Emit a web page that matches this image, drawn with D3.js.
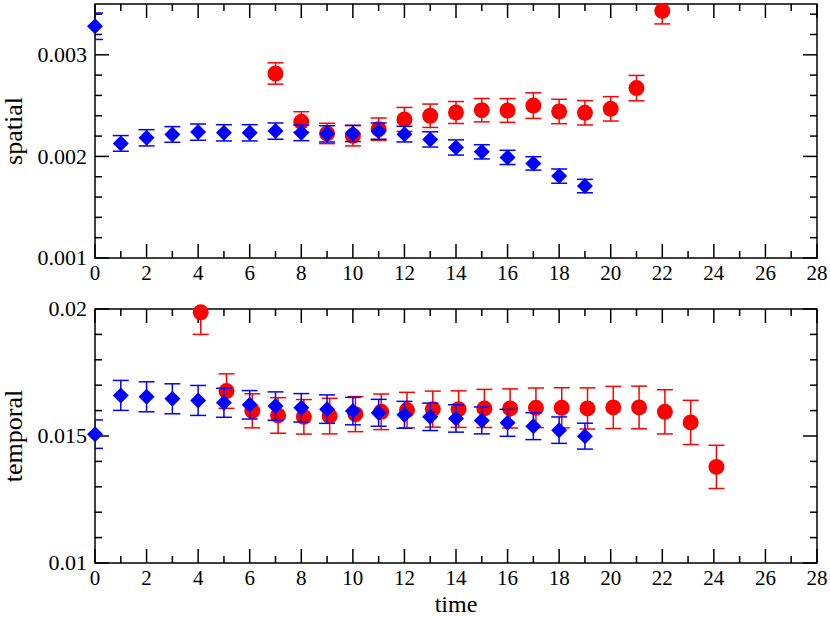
<!DOCTYPE html>
<html>
<head>
<meta charset="utf-8">
<script src="https://cdn.jsdelivr.net/npm/d3@7"></script>
<style>
  html, body { margin: 0; padding: 0; background: #fff; }
  svg { display: block; }
  text { font-family: "Liberation Serif", "Times New Roman", serif; fill: #000; }
</style>
</head>
<body>
<div id="chart"></div>
<script>
// ---------- data ----------
const spatialBlueTime = [0,1,2,3,4,5,6,7,8,9,10,11,12,13,14,15,16,17,18,19];
const spatialBlue = [0.003281,0.002128,0.002183,0.002216,0.002239,0.002232,0.002232,0.002249,0.002232,0.002222,
                     0.002226,0.002249,0.002219,0.002167,0.002088,0.002045,0.001990,0.001931,0.001806,0.001708];
const spatialBlueErr = [0.00013,0.000077,0.00008,0.000077,0.00008,0.00008,0.00008,0.00008,0.000077,0.00008,
                        0.00008,0.00008,0.000077,0.000075,0.000075,0.00007,0.00007,0.000066,0.00007,0.000066];

const spatialRedTime = [7,8,9,10,11,12,13,14,15,16,17,18,19,20,21,22];
const spatialRed = [0.002816,0.00234,0.002226,0.002203,0.002268,0.002364,0.0024,0.002432,
                    0.002455,0.002452,0.0025,0.002442,0.002429,0.002468,0.002672,0.003432];
const spatialRedErr = [0.000105,0.0001,0.0001,0.0001,0.00011,0.000118,0.000115,0.000108,
                       0.000115,0.000117,0.000126,0.00012,0.00012,0.00012,0.000125,0.000128];

const temporalBlueTime = [0,1,2,3,4,5,6,7,8,9,10,11,12,13,14,15,16,17,18,19];
const temporalBlue = [0.015073,0.016598,0.016543,0.016465,0.016400,0.016307,0.016228,0.016177,0.01611,0.016058,
                      0.01598,0.015913,0.015834,0.015755,0.015692,0.015613,0.015518,0.015388,0.01523,0.014994];
const temporalBlueErr = [0.00056,0.00059,0.00059,0.00059,0.00059,0.00057,0.00056,0.00056,0.00056,0.00056,
                         0.00054,0.00053,0.00053,0.00054,0.00054,0.00053,0.00053,0.00053,0.00052,0.00051];

const temporalRedTime = [4.1,5.1,6.1,7.1,8.1,9.1,10.1,11.1,12.1,13.1,14.1,15.1,16.1,17.1,18.1,19.1,20.1,21.1,22.1,23.1,24.1];
const temporalRed = [0.01987,0.016768,0.015992,0.015809,0.015755,0.015783,0.015861,0.015952,0.016019,0.016058,0.016058,
                     0.016085,0.016085,0.01611,0.01611,0.016085,0.016124,0.016124,0.015952,0.015534,0.013784];
const temporalRedErr = [0.00087,0.00068,0.00067,0.0007,0.00068,0.0007,0.00069,0.0007,0.0007,0.00071,0.00072,
                        0.00075,0.00077,0.00078,0.00079,0.00081,0.00083,0.00084,0.00087,0.00087,0.00085];

const xTicks = [0,2,4,6,8,10,12,14,16,18,20,22,24,26,28];
const spatialTicks = [0.001,0.002,0.003];
const temporalTicks = [0.01,0.015,0.02];
const spatialTickLabels = ["0.001","0.002","0.003"];
const temporalTickLabels = ["0.01","0.015","0.02"];

// ---------- layout ----------
const W = 830, H = 617;
const svg = d3.select("#chart").append("svg").attr("width", W).attr("height", H);
const x = d3.scaleLinear().domain([0, 28]).range([95, 817]);

const panels = [
  { id: "p1", top: 4, bottom: 258, domain: [0.001, 0.0035], minorStep: 0.0002,
    ticks: spatialTicks, tickLabels: spatialTickLabels, label: "spatial",
    series: [
      { t: spatialRedTime, v: spatialRed, e: spatialRedErr, color: "#ff0000", shape: "circle" },
      { t: spatialBlueTime, v: spatialBlue, e: spatialBlueErr, color: "#0000ff", shape: "diamond" }
    ] },
  { id: "p2", top: 309, bottom: 563, domain: [0.01, 0.02], minorStep: 0.001,
    ticks: temporalTicks, tickLabels: temporalTickLabels, label: "temporal",
    series: [
      { t: temporalRedTime, v: temporalRed, e: temporalRedErr, color: "#ff0000", shape: "circle" },
      { t: temporalBlueTime, v: temporalBlue, e: temporalBlueErr, color: "#0000ff", shape: "diamond" }
    ] }
];

const MAJ = 14, MIN = 7, CAP = 8, R = 8;

panels.forEach(p => {
  const y = d3.scaleLinear().domain(p.domain).range([p.bottom, p.top]);
  const g = svg.append("g");
  const x0 = x.range()[0], x1 = x.range()[1];

  svg.append("clipPath").attr("id", "clip-" + p.id)
    .append("rect").attr("x", x0).attr("y", p.top).attr("width", x1 - x0).attr("height", p.bottom - p.top);

  // minor/major ticks (inward on all four sides)
  const xMinor = d3.range(0, 28.001, 1);
  const ticksG = g.append("g").attr("stroke", "#000").attr("stroke-width", 1.5);
  xMinor.forEach(t => {
    const len = (t % 2 === 0) ? MAJ : MIN;
    ticksG.append("line").attr("x1", x(t)).attr("x2", x(t)).attr("y1", p.bottom).attr("y2", p.bottom - len);
    ticksG.append("line").attr("x1", x(t)).attr("x2", x(t)).attr("y1", p.top).attr("y2", p.top + len);
  });
  const nMinor = Math.round((p.domain[1] - p.domain[0]) / p.minorStep);
  for (let i = 0; i <= nMinor; i++) {
    const v = p.domain[0] + i * p.minorStep;
    const isMaj = p.ticks.some(t => Math.abs(t - v) < p.minorStep / 10);
    const len = isMaj ? MAJ : MIN;
    ticksG.append("line").attr("x1", x0).attr("x2", x0 + len).attr("y1", y(v)).attr("y2", y(v));
    ticksG.append("line").attr("x1", x1).attr("x2", x1 - len).attr("y1", y(v)).attr("y2", y(v));
  }

  // frame
  g.append("rect").attr("x", x0).attr("y", p.top).attr("width", x1 - x0).attr("height", p.bottom - p.top)
    .attr("fill", "none").attr("stroke", "#000").attr("stroke-width", 1.5);

  // tick labels
  g.selectAll(".xl").data(xTicks).enter().append("text")
    .attr("x", d => x(d)).attr("y", p.bottom + 22).attr("text-anchor", "middle")
    .attr("font-size", 21).text(d => d);
  g.selectAll(".yl").data(p.ticks).enter().append("text")
    .attr("x", x0 - 8).attr("y", d => y(d)).attr("dy", "0.34em").attr("text-anchor", "end")
    .attr("font-size", 22).text((d, i) => p.tickLabels[i]);

  // axis label
  g.append("text").attr("transform", `translate(22,${(p.top + p.bottom) / 2}) rotate(-90)`)
    .attr("text-anchor", "middle").attr("font-size", 26).text(p.label);

  // series
  p.series.forEach(s => {
    const pts = s.t.map((t, i) => ({ t, v: s.v[i], e: s.e[i] }));
    const eb = g.append("g").attr("clip-path", `url(#clip-${p.id})`)
      .attr("stroke", s.color).attr("stroke-width", 1.5).attr("fill", "none");
    pts.forEach(d => {
      const cx = x(d.t), yh = y(d.v + d.e), yl = y(d.v - d.e);
      eb.append("line").attr("x1", cx).attr("x2", cx).attr("y1", yh).attr("y2", yl);
      eb.append("line").attr("x1", cx - CAP).attr("x2", cx + CAP).attr("y1", yh).attr("y2", yh);
      eb.append("line").attr("x1", cx - CAP).attr("x2", cx + CAP).attr("y1", yl).attr("y2", yl);
    });
    const mk = g.append("g").attr("fill", s.color);
    if (s.shape === "circle") {
      mk.selectAll("circle").data(pts).enter().append("circle")
        .attr("cx", d => x(d.t)).attr("cy", d => y(d.v)).attr("r", R);
    } else {
      mk.selectAll("path").data(pts).enter().append("path")
        .attr("d", d => {
          const cx = x(d.t), cy = y(d.v);
          return `M${cx},${cy - R}L${cx + R},${cy}L${cx},${cy + R}L${cx - R},${cy}Z`;
        });
    }
  });
});

svg.append("text").attr("x", x(14)).attr("y", 611.5).attr("text-anchor", "middle")
  .attr("font-size", 24).text("time");
</script>
</body>
</html>
